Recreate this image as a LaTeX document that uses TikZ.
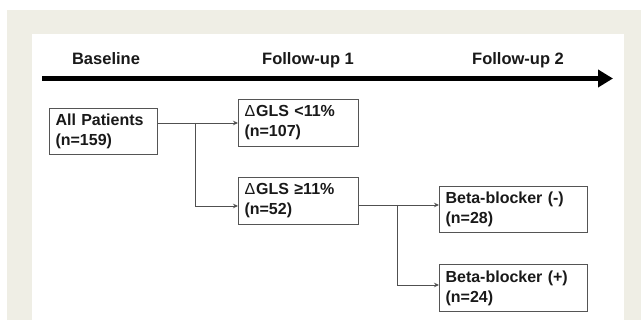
\documentclass[tikz,border=0pt]{standalone}
\usepackage{fontspec}
\setmainfont{Liberation Sans}
\usetikzlibrary{arrows.meta}
\definecolor{beige}{RGB}{239,238,229}
\definecolor{boxline}{RGB}{85,85,85}
\definecolor{connline}{RGB}{80,80,80}
\definecolor{ink}{RGB}{25,25,25}
\tikzset{
  flowbox/.style={draw=boxline, line width=1.1pt, fill=white, anchor=north west,
    inner xsep=6pt, inner ysep=0pt, align=left, text=ink,
    font=\fontsize{16}{20}\selectfont\bfseries},
  conn/.style={draw=connline, line width=0.9pt, -{Stealth[length=5pt,width=4.5pt]}},
  header/.style={anchor=base, text=ink, font=\fontsize{16.5}{19}\selectfont\bfseries},
  timeline/.style={line width=4.6pt, black, -{Triangle[length=15pt,width=17pt]}}
}
\newcommand{\dlt}{{\mdseries Δ}\kern1pt}
\begin{document}
\begin{tikzpicture}[x=1pt,y=-1pt]
\useasboundingbox (0,0) rectangle (641,320);
\fill[white] (0,0) rectangle (641,320);
\fill[beige] (7,10) rectangle (641,320);
\fill[white] (32,34) rectangle (624,320);

% timeline
\coordinate (t0) at (42,78.5);
\coordinate (t1) at (613,78.5);
\draw[timeline] (t0) -- (t1);
\node[header] (hb) at (106,65) {Baseline};
\node[header] (hf1) at (308,65) {Follow-up 1};
\node[header] (hf2) at (518,65) {Follow-up 2};

% boxes
\node[flowbox, minimum width=108pt, minimum height=46pt, text width=96pt] (all) at (49,108) {All Patients\\(n=159)};
\node[flowbox, minimum width=120pt, minimum height=47pt, text width=108pt] (lt) at (238,99) {\dlt GLS <11\%\\(n=107)};
\node[flowbox, minimum width=120pt, minimum height=47pt, text width=108pt] (ge) at (238,177) {\dlt GLS ≥11\%\\(n=52)};
\node[flowbox, minimum width=148pt, minimum height=46pt, text width=136pt] (bm) at (439,186) {Beta-blocker (-)\\(n=28)};
\node[flowbox, minimum width=148pt, minimum height=47pt, text width=136pt] (bp) at (439,264) {Beta-blocker (+)\\(n=24)};

% connectors
\coordinate (j1) at (195,123);
\coordinate (j1b) at (195,206);
\coordinate (j2) at (397,205);
\coordinate (j2b) at (397,285);
\draw[conn] (all.east |- j1) -- (lt.west |- j1);
\draw[conn] (j1) -- (j1b) -- (ge.west |- j1b);
\draw[conn] (ge.east |- j2) -- (bm.west |- j2);
\draw[conn] (j2) -- (j2b) -- (bp.west |- j2b);
\end{tikzpicture}
\end{document}
